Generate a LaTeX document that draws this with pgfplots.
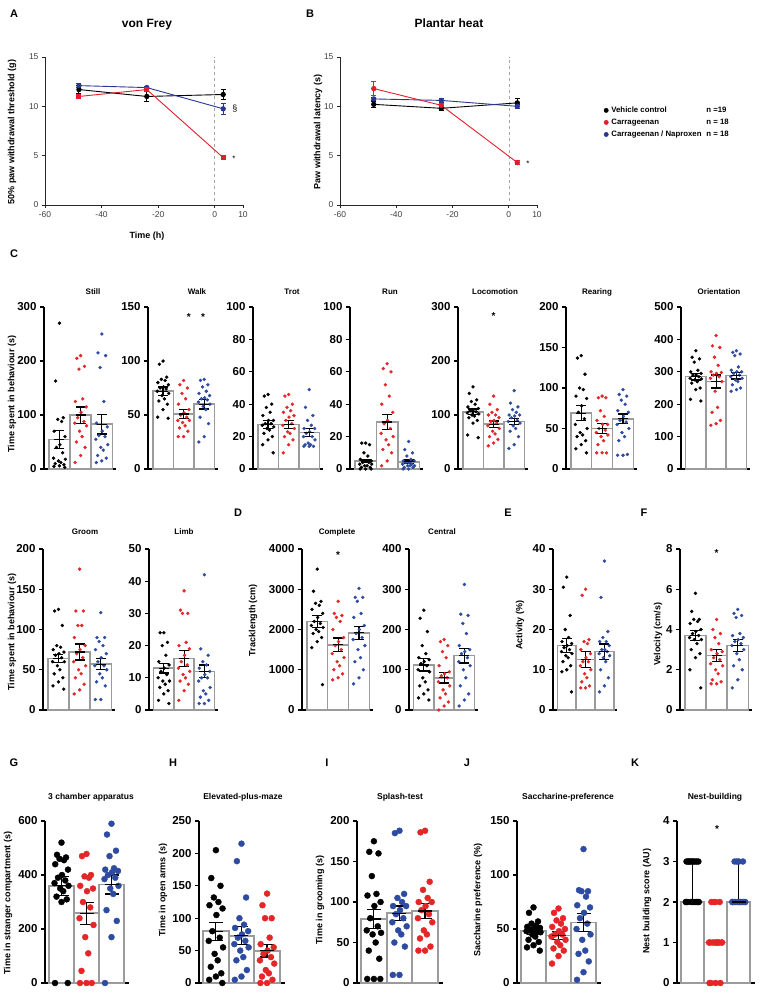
\documentclass[border=0pt]{standalone}
\usepackage{fontspec}
\setmainfont{Liberation Sans}
\usepackage{pgfplots}
\usepackage{pgfplotstable}
\pgfplotsset{compat=1.18}

\definecolor{dred}{RGB}{228,38,40}
\definecolor{dblue}{RGB}{45,75,160}
\definecolor{lred}{RGB}{226,30,45}
\definecolor{lblue}{RGB}{40,55,145}
\definecolor{bargray}{RGB}{155,155,155}

\newcommand\tk{\bfseries\fontsize{11.5}{12}\selectfont}
\newcommand\lab{\bfseries\fontsize{9}{10}\selectfont}
\newcommand\ttl{\bfseries\fontsize{8}{9}\selectfont}
\newcommand\plet{\bfseries\fontsize{11}{12}\selectfont}
\newcommand\st{\bfseries\fontsize{10}{10}\selectfont}
\def\ms{1.5pt}\def\bw{1.6pt}\def\es{5pt}

\pgfplotsset{
  base/.style={scale only axis, anchor=south west, clip=false,
    axis x line*=bottom, axis y line*=left, tick align=outside,
    /pgf/number format/assume math mode=true,
    /pgf/number format/1000 sep={}, scaled y ticks=false},
  bp/.style={base, height=162pt, ymin=0, xmin=0.27, xmax=3.67, xtick=\empty,
    axis line style={line width=1.4pt, black},
    tick style={line width=1.2pt, black}, major tick length=4pt,
    yticklabel style={font=\tk, text=black}},
  bp3/.style={bp, xmin=0.34, xmax=3.7},
  lp/.style={base, height=148pt, width=198pt, xmin=-60, xmax=10, ymin=0, ymax=15,
    xtick={-60,-40,-20,0,10}, ytick={0,5,10,15},
    axis line style={line width=0.8pt, black!85},
    tick style={line width=0.8pt, black!85}, major tick length=3pt,
    tick label style={font=\fontsize{8.5}{9}\selectfont, text=black!75}},
  eb/.style={error bars/y dir=both, error bars/y explicit,
    error bars/error bar style={line width=0.9pt},
    error bars/error mark options={rotate=90, line width=0.9pt, mark size=2.5pt}},
}

\newcommand\pts[4]{\addplot[only marks, mark=*, mark size=\ms, color=#4] table[x expr=\thisrow{o}+#3, y=#2]{#1};}
\newcommand\grp[3]{\pts{#1}{a}{1}{black}\pts{#1}{b}{2}{#2}\pts{#1}{c}{3}{#3}}
\newcommand\bars[3]{\addplot[ybar, bar width=1, draw=bargray, fill=white, line width=\bw] coordinates {(1,#1) (2,#2) (3,#3)};}
\newcommand\errs[6]{\addplot[black, only marks, mark=-, mark size=\es, mark options={line width=1.2pt},
  error bars/.cd, y dir=both, y explicit, error bar style={line width=1.2pt, black},
  error mark options={rotate=90, line width=1.2pt, mark size=\es, black}]
  coordinates {(1,#1) +- (0,#2) (2,#3) +- (0,#4) (3,#5) +- (0,#6)};}

% ---- data: o = horizontal jitter, a/b/c = groups 1/2/3
\pgfplotstableread{
o a b c
0 270 210 250
-0.18 163 205 215
0.18 95 190 210
-0.08 92 185 188
0.1 88 130 125
-0.25 70 125 85
0.26 60 115 78
0.02 45 105 70
-0.14 40 95 62
0.15 30 88 60
-0.28 20 85 55
0.28 18 80 45
-0.05 15 70 40
0.07 12 60 35
-0.2 10 50 25
0.21 8 40 20
0 6 25 15
-0.26 5 12 12
0.25 3 nan nan
}\tStill
\pgfplotstableread{
o a b c
0 100 82 83
-0.18 97 78 82
0.18 85 75 78
-0.08 83 70 76
0.1 82 65 72
-0.25 80 60 70
0.26 78 55 68
0.02 76 52 66
-0.14 75 50 65
0.15 74 48 64
-0.28 72 45 62
0.28 70 45 60
-0.05 68 43 58
0.07 65 40 55
-0.2 63 38 48
0.21 60 35 42
0 55 30 30
-0.26 48 30 25
0.25 47 nan nan
}\tWalk
\pgfplotstableread{
o a b c
0 46 46 49
-0.18 45 45 38
0.18 40 40 33
-0.08 38 38 30
0.1 35 36 27
-0.25 33 35 25
0.26 30 33 25
0.02 30 32 23
-0.14 28 30 22
0.15 28 28 20
-0.28 27 27 20
0.28 26 25 18
-0.05 25 23 16
0.07 24 22 15
-0.2 22 20 15
0.21 20 18 14
0 18 15 14
-0.26 15 10 14
0.25 10 nan nan
}\tTrot
\pgfplotstableread{
o a b c
0 16 65 17
-0.18 16 62 12
0.18 15 60 10
-0.08 10 52 8
0.1 8 45 6
-0.25 6 40 5
0.26 5 35 5
0.02 5 30 4
-0.14 4 28 4
0.15 4 25 3
-0.28 3 22 3
0.28 3 20 2
-0.05 2 18 2
0.07 2 15 2
-0.2 1 12 1
0.21 1 10 1
0 0 5 0
-0.26 0 2 0
0.25 0 nan nan
}\tRun
\pgfplotstableread{
o a b c
0 152 135 145
-0.18 140 120 122
0.18 128 110 115
-0.08 125 105 110
0.1 120 100 105
-0.25 115 100 100
0.26 112 95 100
0.02 110 90 98
-0.14 108 88 95
0.15 106 85 90
-0.28 104 80 88
0.28 102 75 85
-0.05 100 70 80
0.07 98 65 75
-0.2 95 60 70
0.21 90 55 60
0 85 48 45
-0.26 63 43 38
0.25 58 nan nan
}\tLoco
\pgfplotstableread{
o a b c
0 140 90 98
-0.18 137 88 92
0.18 117 88 90
-0.08 100 72 85
0.1 98 65 80
-0.25 90 60 72
0.26 87 55 70
0.02 78 55 65
-0.14 70 50 60
0.15 62 48 58
-0.28 55 45 55
0.28 50 42 50
-0.05 45 40 45
0.07 42 35 40
-0.2 40 30 35
0.21 35 20 18
0 30 20 17
-0.26 25 20 17
0.25 20 nan nan
}\tRear
\pgfplotstableread{
o a b c
0 365 412 365
-0.18 345 380 360
0.18 340 375 355
-0.08 330 345 350
0.1 305 320 315
-0.25 300 300 305
0.26 295 298 300
0.02 290 295 300
-0.14 290 290 295
0.15 285 285 290
-0.28 280 280 285
0.28 278 270 280
-0.05 275 240 275
0.07 270 190 270
-0.2 265 175 260
0.21 250 150 250
0 245 140 245
-0.26 215 135 240
0.25 210 nan nan
}\tOrient
\pgfplotstableread{
o a b c
0 125 175 121
-0.18 123 123 90
0.18 105 123 90
-0.08 80 105 85
0.1 78 105 80
-0.25 75 90 75
0.26 72 80 70
0.02 70 75 65
-0.14 68 70 60
0.15 65 65 55
-0.28 60 60 55
0.28 60 55 50
-0.05 55 50 45
0.07 50 45 40
-0.2 45 40 35
0.21 40 32 30
0 35 25 13
-0.26 30 20 13
0.25 26 nan nan
}\tGroom
\pgfplotstableread{
o a b c
0 24 37 42
-0.18 24 31 19
0.18 21 30 17
-0.08 20 30 15
0.1 17 21 14
-0.25 15 20 13
0.26 14 19 12
0.02 13 17 11
-0.14 12 15 10
0.15 11 14 10
-0.28 10 13 9
0.28 9 12 7
-0.05 9 11 6
0.07 8 10 5
-0.2 7 9 4
0.21 6 8 3
0 5 6 2
-0.26 3 3 2
0.25 2 nan nan
}\tLimb
\pgfplotstableread{
o a b c
0 3500 2700 3020
-0.18 2950 2400 2800
0.18 2700 2350 2800
-0.08 2650 2300 2700
0.1 2600 2200 2400
-0.25 2500 2000 2300
0.26 2400 1800 2100
0.02 2300 1700 2000
-0.14 2200 1600 1900
0.15 2150 1500 1800
-0.28 2100 1400 1750
0.28 2050 1300 1600
-0.05 2000 1200 1500
0.07 1950 1100 1300
-0.2 1900 1000 1200
0.21 1800 900 1000
0 1700 800 800
-0.26 1550 750 650
0.25 630 nan nan
}\tComplete
\pgfplotstableread{
o a b c
0 248 175 312
-0.18 228 170 238
0.18 195 160 235
-0.08 160 145 215
0.1 140 130 190
-0.25 130 110 160
0.26 125 95 150
0.02 120 90 145
-0.14 115 85 140
0.15 110 80 130
-0.28 100 70 120
0.28 95 60 110
-0.05 80 50 100
0.07 70 40 80
-0.2 60 30 60
0.21 50 20 40
0 40 10 25
-0.26 30 0 10
0.25 25 nan nan
}\tCentral
\pgfplotstableread{
o a b c
0 33 30 37
-0.18 30.5 28.5 28
0.18 23.5 17.5 19.5
-0.08 20 17 18
0.1 18 16.5 17
-0.25 17 15 17
0.26 16.5 14 16
0.02 16 13 15
-0.14 15.5 12 15
0.15 15 12 14.5
-0.28 14.5 11 14
0.28 14 10 13.5
-0.05 13.5 9 13
0.07 13 8 12
-0.2 12 7 10
0.21 11 6 8
0 10 5.5 6
-0.26 9.5 5.5 4.5
0.25 4.5 nan nan
}\tActivity
\pgfplotstableread{
o a b c
0 5.8 4.5 5.0
-0.18 4.9 4.0 4.8
0.18 4.5 3.8 4.7
-0.08 4.5 3.6 4.6
0.1 4.4 3.3 3.8
-0.25 4.3 3.0 3.7
0.26 4.0 2.9 3.6
0.02 3.9 2.8 3.5
-0.14 3.8 2.6 3.4
0.15 3.7 2.5 3.3
-0.28 3.6 2.3 3.2
0.28 3.5 2.2 3.0
-0.05 3.5 2.0 2.8
0.07 3.3 1.8 2.5
-0.2 3.0 1.5 2.2
0.21 2.8 1.4 2.0
0 2.6 1.3 1.5
-0.26 2.0 1.3 1.1
0.25 1.1 nan nan
}\tVelocity
\pgfplotstableread{
o a b c
0 520 478 590
-0.18 475 470 550
0.18 465 400 490
-0.08 460 395 470
0.1 455 390 425
-0.25 440 360 420
0.26 420 350 415
0.02 400 340 410
-0.14 390 300 400
0.15 380 280 390
-0.28 370 240 385
0.28 360 215 360
-0.05 350 170 350
0.07 340 110 330
-0.2 320 45 270
0.21 310 0 230
0 300 0 170
-0.26 0 0 0
0.25 0 nan nan
}\tG
\pgfplotstableread{
o a b c
0 205 215 138
-0.18 162 188 120
0.18 150 132 100
-0.08 132 100 100
0.1 125 90 70
-0.25 120 85 60
0.26 115 80 55
0.02 105 75 50
-0.14 80 70 45
0.15 70 65 40
-0.28 65 60 35
0.28 55 55 30
-0.05 45 50 20
0.07 35 40 15
-0.2 25 35 10
0.21 15 20 5
0 10 10 0
-0.26 5 5 0
0.25 0 nan nan
}\tH
\pgfplotstableread{
o a b c
0 175 188 188
-0.18 162 185 186
0.18 160 110 125
-0.08 132 105 115
0.1 110 100 105
-0.25 108 95 100
0.26 100 95 100
0.02 95 90 95
-0.14 80 85 90
0.15 70 80 85
-0.28 65 75 80
0.28 62 70 75
-0.05 60 65 65
0.07 50 60 60
-0.2 40 50 55
0.21 30 45 45
0 5 10 40
-0.26 5 10 40
0.25 5 nan nan
}\tI
\pgfplotstableread{
o a b c
0 70 69 124
-0.18 65 65 86
0.18 57 60 85
-0.08 55 58 85
0.1 53 55 80
-0.25 52 52 72
0.26 51 50 70
0.02 50 48 65
-0.14 49 45 60
0.15 48 45 55
-0.28 48 43 50
0.28 47 40 45
-0.05 45 38 40
0.07 43 35 30
-0.2 40 32 27
0.21 38 30 20
0 35 25 10
-0.26 33 18 3
0.25 30 nan nan
}\tJ
\pgfplotstableread{
o a b c
0 3 2 3
-0.18 3 2 3
0.18 3 2 3
-0.08 3 2 3
0.1 3 1 2
-0.25 3 1 2
0.26 3 1 2
0.02 3 1 2
-0.14 3 1 2
0.15 2 1 2
-0.28 2 1 2
0.28 2 1 2
-0.05 2 1 2
0.07 2 1 2
-0.2 2 0 2
0.21 2 0 2
0 2 0 2
-0.26 2 0 2
0.25 2 nan nan
}\tK

\begin{document}
\begin{tikzpicture}
\useasboundingbox (0,0) rectangle (762pt,-992pt);

% ---------------- A: von Frey
\begin{axis}[lp, at={(45pt,-205pt)}]
\addplot[gray!70, dashed, line width=0.7pt] coordinates {(0,0.4) (0,15)};
\addplot[black, mark=*, mark size=2.2pt, line width=0.9pt, eb] coordinates {(-48,11.7) +- (0,0.4) (-24,11.0) +- (0,0.5) (3,11.2) +- (0,0.5)};
\addplot[lblue, mark=*, mark size=2.2pt, line width=0.9pt, eb] coordinates {(-48,12.1) +- (0,0.2) (-24,11.9) +- (0,0.15) (3,9.75) +- (0,0.55)};
\addplot[lred, mark=square*, mark size=2pt, line width=0.9pt, eb] coordinates {(-48,11.0) +- (0,0.2) (-24,11.7) +- (0,0.2) (3,4.8) +- (0,0.15)};
\node[anchor=west, font=\fontsize{9}{9}\selectfont] at (axis cs:5,9.8) {§};
\node[anchor=west, font=\fontsize{8}{8}\selectfont] at (axis cs:5,4.7) {*};
\end{axis}

% ---------------- B: Plantar heat
\begin{axis}[lp, at={(340pt,-205pt)}, width=197pt,
  legend style={draw=none, fill=none, at={(1.339,0.675)}, anchor=north west,
    font=\bfseries\fontsize{7.8}{8.5}\selectfont, inner sep=0pt, row sep=2pt,
    nodes={inner sep=1.5pt},
    /tikz/every odd column/.append style={column sep=1.5pt}},
  legend cell align=left,
  legend image code/.code={\draw[#1] plot coordinates {(2.2pt,0pt)};}]
\addplot[gray!70, dashed, line width=0.7pt, forget plot] coordinates {(0,0.4) (0,15)};
\addplot[black, mark=*, mark size=2.2pt, line width=0.9pt, forget plot, eb] coordinates {(-48,10.2) +- (0,0.3) (-24,9.8) +- (0,0.25) (3,10.35) +- (0,0.4)};
\addplot[lblue, mark=*, mark size=2.2pt, line width=0.9pt, forget plot, eb] coordinates {(-48,10.75) +- (0,0.15) (-24,10.6) +- (0,0.2) (3,10.0) +- (0,0.2)};
\addplot[lred, mark=*, mark size=2.2pt, line width=0.9pt, forget plot, eb] coordinates {(-48,11.8) +- (0,0.7) (-24,10.1) +- (0,0.2) (3,4.3) +- (0,0.2)};
\node[anchor=west, font=\fontsize{8}{8}\selectfont] at (axis cs:5,4.2) {*};
\addlegendimage{only marks, mark=*, mark size=2.2pt, black}
\addlegendentry{\makebox[95pt][l]{Vehicle control}n =19}
\addlegendimage{only marks, mark=*, mark size=2.2pt, lred}
\addlegendentry{\makebox[95pt][l]{Carrageenan}n = 18}
\addlegendimage{only marks, mark=*, mark size=2.2pt, lblue}
\addlegendentry{\makebox[95pt][l]{Carrageenan / Naproxen}n = 18}
\end{axis}

% ---------------- C row
\begin{axis}[bp, at={(44pt,-469pt)}, width=72pt, ymax=300, ytick={0,100,200,300}]
\bars{55}{100}{83}\grp{\tStill}{dred}{dblue}\errs{55}{17}{100}{15}{83}{18}
\end{axis}
\begin{axis}[bp, at={(148pt,-469pt)}, width=70pt, ymax=150, ytick={0,50,100,150}]
\bars{72}{51}{60}\grp{\tWalk}{dred}{dblue}\errs{72}{4}{51}{4}{60}{4.5}
\node[font=\st] at (axis cs:2.25,141) {*};
\node[font=\st] at (axis cs:2.95,141) {*};
\end{axis}
\begin{axis}[bp, at={(253pt,-469pt)}, width=70pt, ymax=100, ytick={0,20,...,100}]
\bars{27.5}{27.5}{22.5}\grp{\tTrot}{dred}{dblue}\errs{27.5}{2.5}{27.5}{2.5}{22.5}{2.5}
\end{axis}
\begin{axis}[bp, at={(350pt,-469pt)}, width=73pt, ymax=100, ytick={0,20,...,100}]
\bars{5}{29}{4.5}\grp{\tRun}{dred}{dblue}\errs{5}{1}{29}{4.5}{4.5}{1}
\end{axis}
\begin{axis}[bp, at={(458pt,-469pt)}, width=70pt, ymax=300, ytick={0,100,200,300}]
\bars{106}{83}{88}\grp{\tLoco}{dred}{dblue}\errs{106}{5}{83}{6}{88}{6}
\node[font=\st] at (axis cs:2,283) {*};
\end{axis}
\begin{axis}[bp, at={(566pt,-469pt)}, width=71pt, ymax=200, ytick={0,50,...,200}]
\bars{69}{50}{62}\grp{\tRear}{dred}{dblue}\errs{69}{9}{50}{6}{62}{6}
\end{axis}
\begin{axis}[bp, at={(681pt,-469pt)}, width=69pt, ymax=500, ytick={0,100,...,500}]
\bars{285}{270}{288}\grp{\tOrient}{dred}{dblue}\errs{285}{10}{270}{20}{288}{10}
\end{axis}

% ---------------- second row
\begin{axis}[bp, at={(43pt,-710pt)}, width=72pt, height=161pt, ymax=200, ytick={0,50,...,200}]
\bars{64}{72}{57}\grp{\tGroom}{dred}{dblue}\errs{64}{5}{72}{10}{57}{7}
\end{axis}
\begin{axis}[bp, at={(149pt,-710pt)}, width=69pt, height=161pt, ymax=50, ytick={0,10,...,50}]
\bars{13}{16}{12}\grp{\tLimb}{dred}{dblue}\errs{13}{1.5}{16}{2.5}{12}{2}
\end{axis}
\begin{axis}[bp, at={(302pt,-710pt)}, width=71pt, height=161pt, ymax=4000, ytick={0,1000,...,4000}]
\bars{2200}{1620}{1920}\grp{\tComplete}{dred}{dblue}\errs{2200}{150}{1620}{170}{1920}{160}
\node[font=\st] at (axis cs:2,3850) {*};
\end{axis}
\begin{axis}[bp, at={(409pt,-710pt)}, width=69pt, height=161pt, ymax=400, ytick={0,100,...,400}]
\bars{112}{80}{135}\grp{\tCentral}{dred}{dblue}\errs{112}{15}{80}{13}{135}{18}
\end{axis}
\begin{axis}[bp, at={(553pt,-710pt)}, width=64pt, height=161pt, ymax=40, ytick={0,10,...,40}]
\bars{16}{12.5}{14.5}\grp{\tActivity}{dred}{dblue}\errs{16}{1.7}{12.5}{2}{14.5}{1.9}
\end{axis}
\begin{axis}[bp, at={(680pt,-710pt)}, width=72pt, height=161pt, ymax=8, ytick={0,2,...,8}]
\bars{3.7}{2.7}{3.2}\grp{\tVelocity}{dred}{dblue}\errs{3.7}{0.25}{2.7}{0.3}{3.2}{0.3}
\node[font=\st] at (axis cs:2,7.8) {*};
\end{axis}

% ---------------- third row
\def\ms{3pt}\def\bw{1.8pt}\def\es{7pt}
\begin{axis}[bp3, at={(45pt,-983pt)}, width=84pt, ymax=600, ytick={0,200,400,600}]
\bars{360}{258}{365}\grp{\tG}{dred}{dblue}\errs{360}{35}{258}{40}{365}{35}
\end{axis}
\begin{axis}[bp3, at={(199pt,-983pt)}, width=86pt, ymax=250, ytick={0,50,...,250}]
\bars{80}{73}{50}\grp{\tH}{dblue}{dred}\errs{80}{14}{73}{14}{50}{10}
\end{axis}
\begin{axis}[bp3, at={(357pt,-983pt)}, width=86pt, ymax=200, ytick={0,50,...,200}]
\bars{79}{86}{89}\grp{\tI}{dblue}{dred}\errs{79}{12}{86}{9}{89}{9}
\end{axis}
\begin{axis}[bp3, at={(517pt,-983pt)}, width=84pt, ymax=150, ytick={0,50,100,150}]
\bars{48}{44}{56}\grp{\tJ}{dred}{dblue}\errs{48}{3}{44}{3.5}{56}{8}
\end{axis}
\begin{axis}[bp3, at={(677pt,-983pt)}, width=78pt, ymax=4, ytick={0,1,...,4}]
\bars{2}{1}{2}\grp{\tK}{dred}{dblue}
\addplot[black, only marks, mark=-, mark size=\es, mark options={line width=1.2pt},
  error bars/.cd, y dir=plus, y explicit, error bar style={line width=1.2pt, black},
  error mark options={rotate=90, line width=1.2pt, mark size=\es, black}]
  coordinates {(1,2) +- (0,1) (3,2) +- (0,1)};
\node[font=\st] at (axis cs:2.07,3.8) {*};
\end{axis}

% ---------------- texts
\node[font=\plet] at (14pt,-14pt) {A};
\node[font=\plet] at (310pt,-14pt) {B};
\node[font=\plet] at (14pt,-254pt) {C};
\node[font=\plet] at (238pt,-513pt) {D};
\node[font=\plet] at (508pt,-513pt) {E};
\node[font=\plet] at (644pt,-513pt) {F};
\node[font=\plet] at (14pt,-763pt) {G};
\node[font=\plet] at (173pt,-763pt) {H};
\node[font=\plet] at (327pt,-763pt) {I};
\node[font=\plet] at (467pt,-763pt) {J};
\node[font=\plet] at (635pt,-763pt) {K};

\node[font=\bfseries\fontsize{12}{13}\selectfont] at (147pt,-25pt) {von Frey};
\node[font=\bfseries\fontsize{12}{13}\selectfont] at (449pt,-23pt) {Plantar heat};
\node[font=\lab] at (147pt,-236pt) {Time (h)};
\node[font=\lab, rotate=90] at (12pt,-132pt) {50\% paw withdrawal threshold (g)};
\node[font=\lab, rotate=90] at (318pt,-132pt) {Paw withdrawal latency (s)};

\foreach \t/\x in {Still/93, Walk/197, Trot/292, Run/390, Locomotion/495, Rearing/597, Orientation/719}
  \node[font=\ttl] at (\x pt,-292pt) {\t};
\foreach \t/\x in {Groom/85, Limb/184, Complete/337, Central/442}
  \node[font=\ttl] at (\x pt,-532pt) {\t};
\foreach \t/\x in {3 chamber apparatus/91, Elevated-plus-maze/243, Splash-test/400, Saccharine-preference/568, Nest-building/715}
  \node[font=\bfseries\fontsize{8.5}{9}\selectfont] at (\x pt,-797pt) {\t};

\node[font=\lab, rotate=90] at (12pt,-394pt) {Time spent in behaviour (s)};
\node[font=\lab, rotate=90] at (12pt,-632pt) {Time spent in behaviour (s)};
\node[font=\lab, rotate=90] at (253pt,-620pt) {Tracklength (cm)};
\node[font=\lab, rotate=90] at (520pt,-625pt) {Activity (\%)};
\node[font=\lab, rotate=90] at (658pt,-634pt) {Velocity (cm/s)};
\node[font=\lab, rotate=90] at (8pt,-903pt) {Time in stranger compartment (s)};
\node[font=\lab, rotate=90] at (163pt,-890pt) {Time in open arms (s)};
\node[font=\lab, rotate=90] at (320pt,-900pt) {Time in grooming (s)};
\node[font=\lab, rotate=90] at (478pt,-900pt) {Saccharine preference (\%)};
\node[font=\lab, rotate=90] at (647pt,-901pt) {Nest building score (AU)};
\end{tikzpicture}
\end{document}
